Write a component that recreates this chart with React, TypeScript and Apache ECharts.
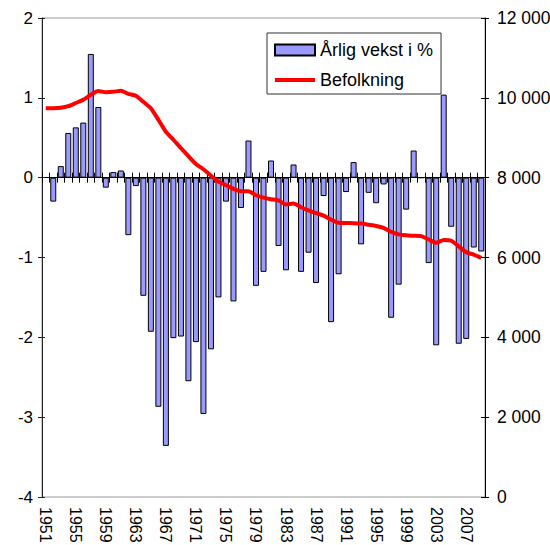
import React, { useEffect, useRef } from "react";
import * as echarts from "echarts";

const years: string[] = [];
for (let y = 1951; y <= 2009; y++) years.push(String(y));

const growth: (number | null)[] = [
  null, -0.30, 0.145, 0.56, 0.63, 0.69, 1.55, 0.885, -0.125, 0.07,
  0.09, -0.72, -0.105, -1.48, -1.93, -2.87, -3.36, -2.01, -1.99, -2.55,
  -2.06, -2.96, -2.15, -1.50, -0.30, -1.55, -0.38, 0.465, -1.355, -1.18,
  0.215, -0.855, -1.16, 0.165, -1.18, -0.94, -1.32, -0.23, -1.81, -1.21,
  -0.18, 0.195, -0.835, -0.19, -0.32, -0.085, -1.755, -1.34, -0.40, 0.34,
  0, -1.07, -2.10, 1.04, -0.615, -2.08, -2.02, -0.875, -0.925,
];

const population: number[] = [
  9740, 9740, 9750, 9790, 9870, 9950, 10075, 10170, 10140, 10150,
  10180, 10100, 10050, 9900, 9740, 9450, 9150, 8950, 8740, 8540,
  8340, 8210, 8050, 7900, 7810, 7720, 7660, 7660, 7560, 7500,
  7460, 7430, 7330, 7350, 7260, 7180, 7110, 7050, 6950, 6870,
  6865, 6860, 6850, 6820, 6790, 6740, 6640, 6580, 6555, 6545,
  6535, 6450, 6370, 6440, 6420, 6280, 6130, 6075, 5990,
];

const leftTicks = { min: -4, max: 2, interval: 1 };
const rightTicks = { min: 0, max: 12000, interval: 2000 };

const FONT = "Liberation Sans, Arial, sans-serif";
const LINE_ICON = "path://M0,0 L40,0 L40,4 L0,4 Z";

export default function App() {
  const ref = useRef<HTMLDivElement>(null);
  useEffect(() => {
    if (!ref.current) return;
    const chart = echarts.init(ref.current, undefined, { renderer: "svg" });
    const catBase = {
      type: "category" as const,
      data: years,
      boundaryGap: true,
      gridIndex: 0,
    };
    chart.setOption({
      animation: false,
      backgroundColor: "#fff",
      textStyle: { fontFamily: FONT },
      grid: {
        left: 42,
        right: 65,
        top: 18,
        bottom: 48,
        containLabel: false,
        outerBoundsMode: "none",
        show: true,
        borderColor: "#999",
        borderWidth: 1,
        backgroundColor: "transparent",
      },
      legend: {
        orient: "vertical",
        left: 267,
        top: 33,
        padding: [7, 8, 4, 7],
        itemGap: 10,
        itemWidth: 40,
        itemHeight: 11,
        backgroundColor: "#fff",
        borderColor: "#333",
        borderWidth: 1,
        borderRadius: 0,
        textStyle: { fontFamily: FONT, fontSize: 18, color: "#000", lineHeight: 20 },
        data: [
          { name: "Årlig vekst i %", icon: "rect" },
          { name: "Befolkning", icon: LINE_ICON, itemStyle: { color: "#FF0000", borderWidth: 0 } },
        ],
      },
      xAxis: [
        {
          ...catBase,
          position: "bottom",
          axisLine: { show: false, onZero: false },
          axisTick: { show: false },
          splitLine: { show: false },
          axisLabel: {
            interval: 3,
            rotate: -90,
            margin: 10,
            fontSize: 16,
            color: "#000",
            fontFamily: FONT,
          },
        },
        {
          ...catBase,
          position: "bottom",
          axisLine: { show: true, onZero: true, onZeroAxisIndex: 0, lineStyle: { color: "#000", width: 1 } },
          axisTick: { show: true, interval: 0, length: 5, inside: false, lineStyle: { color: "#000" } },
          axisLabel: { show: false },
          splitLine: { show: false },
        },
        {
          ...catBase,
          position: "bottom",
          axisLine: { show: false, onZero: true, onZeroAxisIndex: 0 },
          axisTick: { show: true, interval: 0, length: 5, inside: true, lineStyle: { color: "#000" } },
          axisLabel: { show: false },
          splitLine: { show: false },
        },
      ],
      yAxis: [
        {
          type: "value",
          position: "left",
          ...leftTicks,
          axisLine: { show: true, lineStyle: { color: "#222" } },
          axisTick: { show: true, length: 4, lineStyle: { color: "#222" } },
          splitLine: { show: false },
          axisLabel: { fontSize: 17, color: "#000", margin: 9, fontFamily: FONT },
        },
        {
          type: "value",
          position: "right",
          ...rightTicks,
          axisLine: { show: true, lineStyle: { color: "#000" } },
          axisTick: { show: true, length: 4, lineStyle: { color: "#000" } },
          splitLine: { show: false },
          axisLabel: {
            fontSize: 17.5,
            color: "#000",
            margin: 12,
            fontFamily: FONT,
            formatter: (v: number) => (v === 0 ? "0" : `${v / 1000} 000`),
          },
        },
        {
          type: "value",
          position: "left",
          ...leftTicks,
          axisLine: { show: false },
          axisTick: { show: true, inside: true, length: 3, lineStyle: { color: "#222" } },
          splitLine: { show: false },
          axisLabel: { show: false },
        },
        {
          type: "value",
          position: "right",
          ...rightTicks,
          axisLine: { show: false },
          axisTick: { show: true, inside: true, length: 4, lineStyle: { color: "#000" } },
          splitLine: { show: false },
          axisLabel: { show: false },
        },
      ],
      series: [
        {
          name: "Årlig vekst i %",
          type: "bar",
          xAxisIndex: 0,
          yAxisIndex: 0,
          data: growth,
          barWidth: 6,
          itemStyle: { color: "#9999FF", borderColor: "#000", borderWidth: 1 },
        },
        {
          name: "Befolkning",
          type: "line",
          xAxisIndex: 0,
          yAxisIndex: 1,
          data: population,
          symbol: "none",
          smooth: 0.2,
          lineStyle: { color: "#FF0000", width: 4 },
          itemStyle: { color: "#FF0000" },
        },
      ],
    });
    return () => chart.dispose();
  }, []);
  return (
    <div
      ref={ref}
      style={{ position: "fixed", left: 0, top: 0, width: 550, height: 545 }}
    />
  );
}
